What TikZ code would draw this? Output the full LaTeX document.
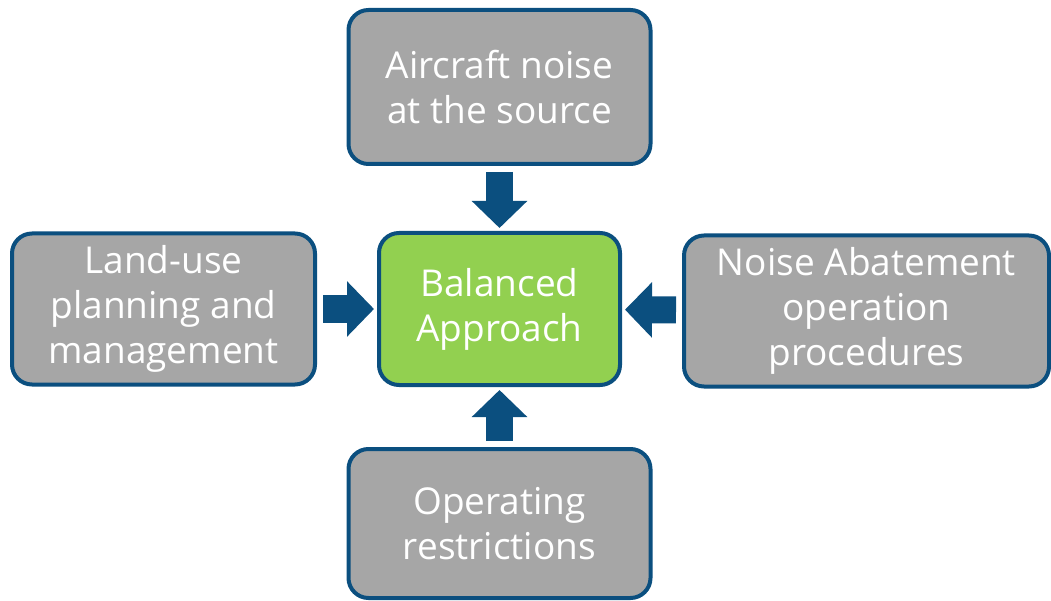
\documentclass[tikz,border=0pt]{standalone}
\usepackage{fontspec}
\setmainfont{Open Sans}
\usetikzlibrary{arrows.meta,positioning}

\definecolor{edgeblue}{HTML}{0B4F7F}
\definecolor{boxgray}{HTML}{A6A6A6}
\definecolor{hubgreen}{HTML}{92D050}

\begin{document}
\begin{tikzpicture}[x=1pt,y=-1pt,
                    flow/.style={draw=edgeblue,line width=27pt,
                      -{Triangle[length=27pt,width=54pt]},
                      shorten <=6pt,shorten >=3pt},
                    measure/.style={rounded corners=20pt,draw=edgeblue,
                      fill=boxgray,line width=4pt,text=white,align=center,
                      font=\fontsize{37}{45}\selectfont}]
  \useasboundingbox (0,0) rectangle (1051,601);

  \node[measure,fill=hubgreen,minimum width=241pt,minimum height=152pt]
                          (hub)   at (499.5,309)   {Balanced\\Approach};
  \node[measure,minimum width=302pt,minimum height=154pt]
                          (source) [above=65pt of hub] {Aircraft noise\\at the source};
  \node[measure,minimum width=303pt,minimum height=151pt]
                          (land)  [left=60pt of hub]   {Land-use\\planning and\\management};
  \node[measure,minimum width=365pt,minimum height=151pt]
                          (abate) [right=60pt of hub,yshift=-2pt]  {Noise Abatement\\operation\\procedures};
  \node[measure,minimum width=302pt,minimum height=149pt]
                          (restr) [below=60pt of hub]  {Operating\\restrictions};

  \path (source) edge[flow] (hub)
        (land)   edge[flow] (hub)
        (abate)  edge[flow] (hub)
        (restr)  edge[flow] (hub);
\end{tikzpicture}
\end{document}
